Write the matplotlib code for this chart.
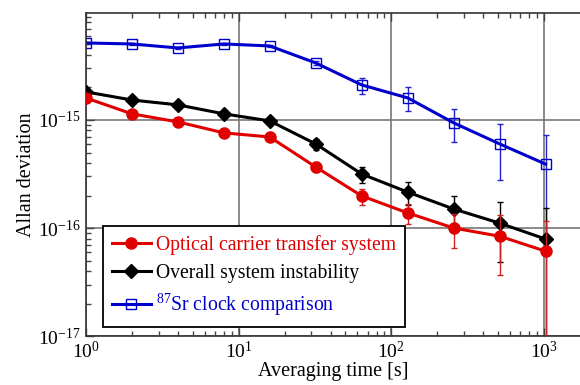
import matplotlib
matplotlib.use("Agg")
import matplotlib.pyplot as plt
from matplotlib.ticker import LogLocator, NullFormatter, LogFormatterMathtext
from matplotlib.lines import Line2D

plt.rcParams['font.family'] = ['Liberation Serif', 'DejaVu Serif']
plt.rcParams['mathtext.fontset'] = 'custom'
plt.rcParams['mathtext.rm'] = 'Liberation Serif'
plt.rcParams['mathtext.it'] = 'Liberation Serif:italic'
plt.rcParams['mathtext.default'] = 'regular'

tau = [1, 2, 4, 8, 16, 32, 64, 128, 256, 512, 1024]

red_vals = [1.60e-15, 1.14e-15, 9.6e-16, 7.6e-16, 6.96e-16, 3.67e-16, 1.98e-16,
            1.38e-16, 1.00e-16, 8.4e-17, 6.1e-17]
red_err = [0.04e-15, 0.03e-15, 0.02e-15, 0.02e-15, 0.02e-15, 0.4e-16, 0.33e-16,
           0.3e-16, 0.35e-16, 0.47e-16, 0.55e-16]

black_vals = [1.82e-15, 1.53e-15, 1.38e-15, 1.14e-15, 9.8e-16, 6.0e-16, 3.16e-16,
              2.15e-16, 1.50e-16, 1.11e-16, 7.9e-17]
black_err = [0.05e-15, 0.03e-15, 0.03e-15, 0.03e-15, 0.03e-15, 0.7e-16, 0.55e-16,
             0.5e-16, 0.5e-16, 0.62e-16, 0.75e-16]

blue_vals = [5.16e-15, 5.05e-15, 4.64e-15, 5.05e-15, 4.84e-15, 3.37e-15, 2.11e-15,
             1.60e-15, 9.4e-16, 6.0e-16, 3.9e-16]
blue_err = [0.1e-15, 0.1e-15, 0.12e-15, 0.15e-15, 0.12e-15, 0.15e-15, 0.36e-15,
            0.4e-15, 3.2e-16, 3.2e-16, 3.3e-16]

labels = ['Optical carrier transfer system', 'Overall system instability',
          r'$^{87}$Sr clock comparison']

fig = plt.figure(figsize=(5.8, 3.85), dpi=100)
ax = fig.add_axes([0.148, 0.127, 0.852, 0.839])

ax.errorbar(tau, blue_vals, yerr=blue_err, color='#0000cc', ecolor='#2222cc',
            elinewidth=1.0, capsize=2.5, lw=2.2, marker='s', ms=7.5,
            mfc='none', mec='#0000cc', mew=1.0, zorder=2)
ax.errorbar(tau, black_vals, yerr=black_err, color='black', ecolor='black',
            elinewidth=1.0, capsize=2.5, lw=2.2, marker='D', ms=7, zorder=3)
ax.errorbar(tau, red_vals, yerr=red_err, color='#e00000', ecolor='#d02020',
            elinewidth=1.0, capsize=2.5, lw=2.2, marker='o', ms=8, zorder=4)

ax.set_xscale('log')
ax.set_yscale('log')
ax.set_xlim(1, 1718)
ax.set_ylim(1e-17, 0.975e-14)

ax.xaxis.set_major_locator(LogLocator(base=10, numticks=10))
ax.yaxis.set_major_locator(LogLocator(base=10, numticks=10))
ax.xaxis.set_minor_locator(LogLocator(base=10, subs=range(2, 10), numticks=20))
ax.yaxis.set_minor_locator(LogLocator(base=10, subs=range(2, 10), numticks=20))
ax.xaxis.set_minor_formatter(NullFormatter())
ax.yaxis.set_minor_formatter(NullFormatter())
ax.xaxis.set_major_formatter(LogFormatterMathtext())
ax.yaxis.set_major_formatter(LogFormatterMathtext())

ax.grid(True, which='major', color='#777777', lw=1.2)
ax.set_axisbelow(True)
ax.tick_params(which='both', direction='in', top=True, right=False,
               labelsize=14, color='#444444')
ax.tick_params(which='major', length=6, width=1.0)
ax.tick_params(which='minor', length=3.5, width=1.0)
for s in ['left', 'bottom', 'top']:
    ax.spines[s].set_color('#333333')
    ax.spines[s].set_linewidth(1.2)
ax.spines['right'].set_visible(False)

ax.set_xlabel('Averaging time [s]', fontsize=14.5, labelpad=0)
ax.set_ylabel('Allan deviation', fontsize=14.5, labelpad=2)

hs = [Line2D([], [], color='#e00000', lw=2.2, marker='o', ms=8),
      Line2D([], [], color='black', lw=2.2, marker='D', ms=7),
      Line2D([], [], color='#0000cc', lw=2.2, marker='s', ms=7.5, mfc='none', mew=1.0)]
leg = ax.legend(hs, labels, loc='lower left', bbox_to_anchor=(0.034, 0.028),
                fontsize=14.2, frameon=True, fancybox=False, framealpha=1,
                edgecolor='black', handlelength=2.0, handletextpad=0.25,
                labelspacing=0.45, borderpad=0.45, borderaxespad=0)
leg.get_frame().set_linewidth(1.3)
for t, c in zip(leg.get_texts(), ['#e00000', 'black', '#0000cc']):
    t.set_color(c)

fig.savefig('out.png', dpi=100)
